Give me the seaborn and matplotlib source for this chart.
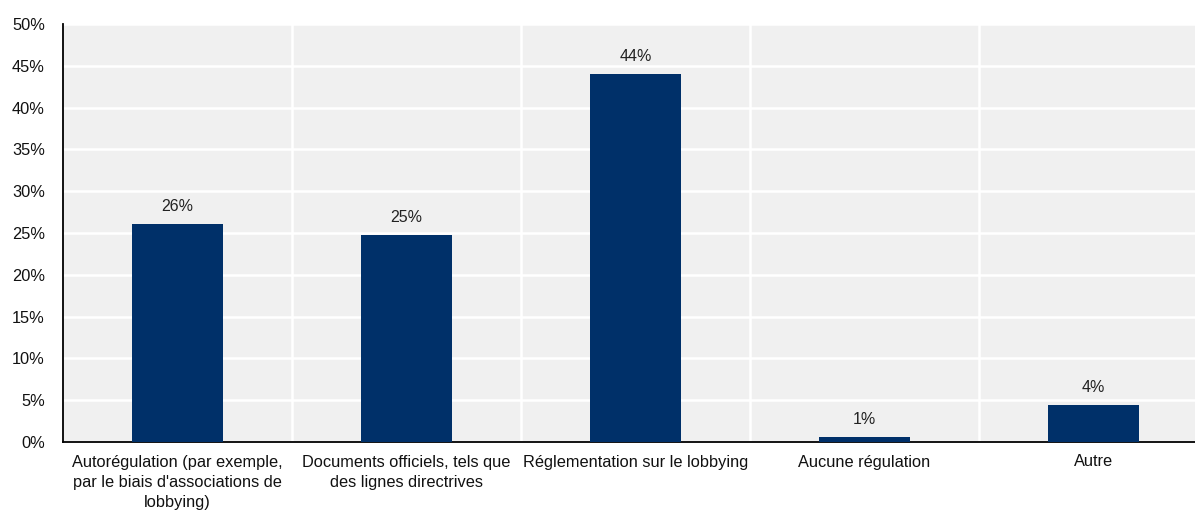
import matplotlib
matplotlib.use("Agg")
import matplotlib.pyplot as plt
import seaborn as sns
import pandas as pd
import numpy as np
from matplotlib.ticker import FixedLocator, PercentFormatter

# Data
categories = [
    "Autorégulation (par exemple,\npar le biais d'associations de\nlobbying)",
    "Documents officiels, tels que\ndes lignes directrives",
    "Réglementation sur le lobbying",
    "Aucune régulation",
    "Autre",
]
values = [26.1, 24.8, 44.0, 0.6, 4.4]
labels = ["26%", "25%", "44%", "1%", "4%"]

sns.set_style("white")
plt.rcParams["font.family"] = ["Liberation Sans", "DejaVu Sans"]

df = pd.DataFrame({"cat": categories, "val": values})

fig = plt.figure(figsize=(11.95, 5.12), dpi=100)
ax = fig.add_axes([63 / 1195, 70 / 512, 1145 / 1195, 418 / 512])
ax.set_facecolor("#f0f0f0")

sns.barplot(data=df, x="cat", y="val", color="#003069", width=0.4,
            saturation=1, linewidth=0, ax=ax, zorder=3)

ax.bar_label(ax.containers[0], labels=labels, padding=7, fontsize=11.5, color="#222222")

ax.set_ylim(0, 50)
ax.set_xlim(-0.5, 4.5)
ax.yaxis.set_major_locator(FixedLocator(np.arange(0, 51, 5)))
ax.yaxis.set_major_formatter(PercentFormatter(decimals=0))
ax.set_xlabel("")
ax.set_ylabel("")

# category boundaries: white vertical grid + small inward ticks
ax.xaxis.set_minor_locator(FixedLocator(np.arange(0.5, 4.5, 1)))
ax.grid(True, axis="y", which="major", color="white", linewidth=1.8, zorder=0)
ax.grid(True, axis="x", which="minor", color="white", linewidth=1.8, zorder=0)
ax.grid(False, axis="x", which="major")
ax.set_axisbelow(True)

ax.tick_params(axis="x", which="major", length=0, labelsize=11.8, pad=9, labelcolor="#111111")
ax.tick_params(axis="x", which="minor", direction="in", length=5, width=1.2, color="black")
ax.tick_params(axis="y", which="major", direction="out", length=5, width=1.2, color="black",
               labelsize=11.8, labelcolor="#111111", pad=8)
for t in ax.get_xticklabels():
    t.set_linespacing(1.45)

for s in ["top", "right"]:
    ax.spines[s].set_visible(False)
for s in ["left", "bottom"]:
    ax.spines[s].set_color("black")
    ax.spines[s].set_linewidth(1.3)

fig.savefig("out.png", dpi=100, facecolor="white")
